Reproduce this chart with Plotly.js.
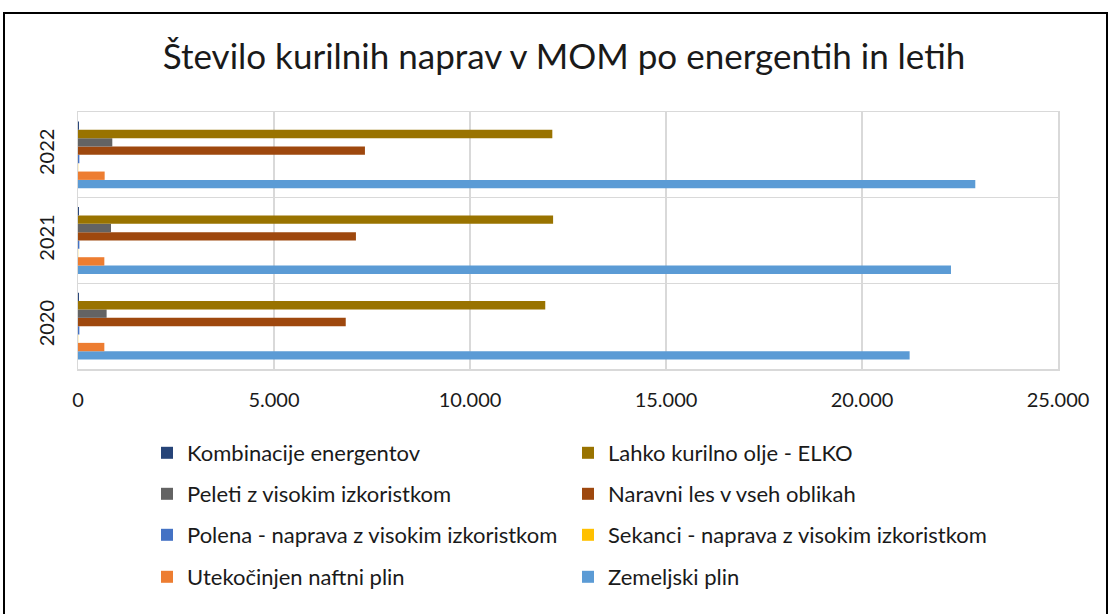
<!DOCTYPE html>
<html>
<head>
<meta charset="utf-8">
<script src="https://cdn.plot.ly/plotly-3.0.1.min.js"></script>
<style>html,body{margin:0;padding:0;background:#fff}#chart{width:1108px;height:614px}</style>
</head>
<body>
<div id="chart"></div>
<script>
const years = ['2020', '2021', '2022'];
const seriesNames = [
  'Kombinacije energentov',
  'Lahko kurilno olje - ELKO',
  'Peleti z visokim izkoristkom',
  'Naravni les v vseh oblikah',
  'Polena - naprava z visokim izkoristkom',
  'Sekanci - naprava z visokim izkoristkom',
  'Utekočinjen naftni plin',
  'Zemeljski plin'
];
const kombinacije = [25, 25, 25];
const elko = [11920, 12120, 12100];
const peleti = [730, 842, 875];
const naravniLes = [6830, 7090, 7320];
const polena = [35, 35, 35];
const sekanci = [5, 5, 5];
const unp = [672, 672, 680];
const zemeljskiPlin = [21215, 22270, 22890];

const seriesValues = [kombinacije, elko, peleti, naravniLes, polena, sekanci, unp, zemeljskiPlin];
const colors = ['#264478', '#997300', '#636363', '#9E480E', '#4472C4', '#FFC000', '#ED7D31', '#5B9BD5'];

const FONT = 'Lato, "Open Sans", sans-serif';
const W = 1108, H = 614;
const mL = 78, mR = 50, mT = 112, mB = 245;
const pw = W - mL - mR, ph = H - mT - mB;
const px = x => (x - mL) / pw;
const py = y => (H - mB - y) / ph;

const legendNames = ['legend', 'legend2', 'legend3', 'legend4'];
const rowY = [453, 494, 535, 577];

// add traces in reverse so the first series sits at the top of each group
const traces = [];
for (let i = seriesNames.length - 1; i >= 0; i--) {
  traces.push({
    type: 'bar',
    orientation: 'h',
    name: seriesNames[i],
    y: years,
    x: seriesValues[i],
    marker: {color: colors[i], line: {width: 0}},
    legend: legendNames[Math.floor(i / 2)],
    legendrank: i,
    hoverinfo: 'x+name'
  });
}

const layout = {
  width: W, height: H,
  margin: {l: mL, r: mR, t: mT, b: mB},
  paper_bgcolor: '#ffffff',
  plot_bgcolor: '#ffffff',
  separators: ',.',
  font: {family: FONT, color: '#1a1a1a', size: 20},
  barmode: 'group',
  bargap: 0.22,
  bargroupgap: 0,
  title: {
    text: 'Število kurilnih naprav v MOM po energentih in letih',
    font: {family: FONT, size: 35, color: '#1a1a1a'},
    x: 0.496, xanchor: 'center', xref: 'paper',
    y: 1 - 57 / H, yanchor: 'middle', yref: 'container'
  },
  xaxis: {
    range: [0, 25000],
    tickvals: [0, 5000, 10000, 15000, 20000, 25000],
    tickformat: ',d',
    showgrid: true, gridcolor: '#d9d9d9', gridwidth: 1.5,
    zeroline: false,
    showline: true, linecolor: '#d9d9d9', linewidth: 1.5, mirror: true,
    ticks: '', ticklabelstandoff: 12,
    tickfont: {size: 20, family: FONT, color: '#1a1a1a'},
    fixedrange: true
  },
  yaxis: {
    type: 'category',
    tickson: 'boundaries',
    showgrid: true, gridcolor: '#d9d9d9', gridwidth: 1.5,
    showline: true, linecolor: '#d9d9d9', linewidth: 1.5, mirror: true,
    ticks: '', tickangle: -90, ticklabelstandoff: 15,
    tickfont: {size: 20, family: FONT, color: '#1a1a1a'},
    fixedrange: true
  },
  shapes: [{
    type: 'rect', xref: 'paper', yref: 'paper',
    x0: px(4), x1: px(1107), y0: py(640), y1: py(13),
    line: {color: '#000000', width: 2}, fillcolor: 'rgba(0,0,0,0)', layer: 'above'
  }],
  showlegend: true
};

legendNames.forEach((ln, k) => {
  layout[ln] = {
    orientation: 'h',
    x: px(147), xanchor: 'left',
    y: py(rowY[k]), yanchor: 'middle',
    entrywidth: 376, entrywidthmode: 'pixels',
    traceorder: 'normal',
    font: {family: FONT, size: 22, color: '#1a1a1a'},
    bgcolor: 'rgba(0,0,0,0)', borderwidth: 0
  };
});

Plotly.newPlot('chart', traces, layout, {displayModeBar: false, staticPlot: true});
</script>
</body>
</html>
